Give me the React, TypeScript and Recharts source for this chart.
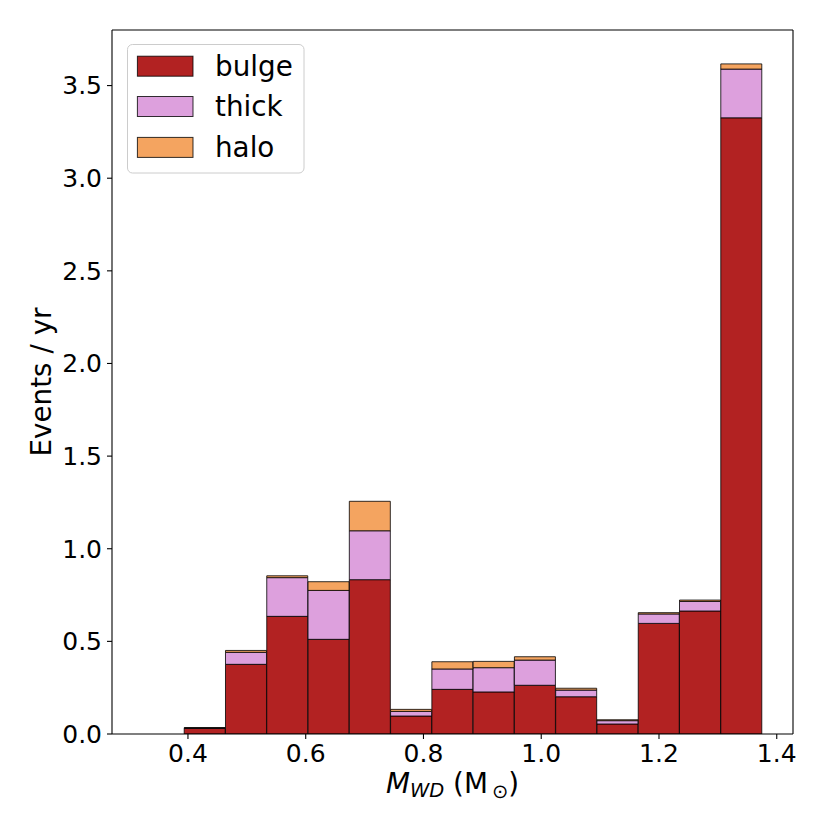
import React from 'react';
import { BarChart, Bar, XAxis, YAxis, Legend, Label, ReferenceLine } from 'recharts';

// Histogram bin centres (M_WD, solar masses)
const binCenters = [0.3586, 0.4287, 0.4988, 0.5689, 0.639, 0.7091, 0.7792, 0.8493, 0.9194, 0.9895, 1.0596, 1.1297, 1.1998, 1.2699, 1.34];
// Events / yr per component (stacked)
const bulge = [0, 0.03, 0.376, 0.635, 0.511, 0.833, 0.097, 0.241, 0.227, 0.263, 0.201, 0.054, 0.597, 0.664, 3.326];
const thick = [0, 0.003, 0.065, 0.209, 0.264, 0.264, 0.025, 0.11, 0.131, 0.136, 0.036, 0.018, 0.051, 0.052, 0.263];
const halo = [0, 0.001, 0.01, 0.01, 0.047, 0.159, 0.011, 0.039, 0.034, 0.018, 0.01, 0.005, 0.007, 0.007, 0.028];

const xTicks = [0.4, 0.6, 0.8, 1.0, 1.2, 1.4];
const yTicks = [0, 0.5, 1.0, 1.5, 2.0, 2.5, 3.0, 3.5];
const xDomain = [0.271, 1.4276];
const yDomain = [0, 3.8];

const series = [
  { key: 'bulge', name: 'bulge', color: '#B22222' },
  { key: 'thick', name: 'thick', color: '#DDA0DD' },
  { key: 'halo', name: 'halo', color: '#F4A460' },
];

const data = binCenters.map((m, i) => ({ m, bulge: bulge[i], thick: thick[i], halo: halo[i] }));

const FONT = 'DejaVu Sans';

const renderXLabel = (props: any) => {
  const vb = props.viewBox || { x: 104, y: 726, width: 681, height: 60 };
  const cx = vb.x + vb.width / 2;
  const y = vb.y + 59;
  return (
    <text x={cx} y={y} textAnchor="middle" fontSize={27.8} fontFamily={FONT} fill="#000">
      <tspan fontStyle="italic">M</tspan>
      <tspan fontStyle="italic" fontSize={19.5} dy={4}>WD</tspan>
      <tspan dy={-4}> (M</tspan>
      <tspan fontSize={19.5} dy={5} dx={4}>⊙</tspan>
      <tspan dy={-5}>)</tspan>
    </text>
  );
};

const renderYLabel = (props: any) => {
  const vb = props.viewBox || { x: 14, y: 22, width: 90, height: 704 };
  const x = vb.x + 28.7;
  const y = vb.y + vb.height / 2;
  return (
    <text
      x={x}
      y={y}
      transform={`rotate(-90, ${x}, ${y})`}
      textAnchor="middle"
      fontSize={27.8}
      fontFamily={FONT}
      fill="#000"
    >
      Events / yr
    </text>
  );
};

const renderLegend = () => {
  const rowCenters = [22.2, 62.5, 103.4];
  return (
    <svg width={178} height={130} style={{ display: 'block' }}>
      <rect x={0.5} y={0.5} width={176.5} height={128.5} rx={5} ry={5} fill="#fff" fillOpacity={0.8} stroke="#cccccc" strokeWidth={1} />
      {series.map((s, i) => (
        <g key={s.key}>
          <rect x={10.4} y={rowCenters[i] - 10} width={55.6} height={20} fill={s.color} stroke="#000" strokeOpacity={0.8} strokeWidth={1} />
          <text x={88} y={rowCenters[i]} dy="0.35em" fontSize={27.8} fontFamily={FONT} fill="#000">
            {s.name}
          </text>
        </g>
      ))}
    </svg>
  );
};

export default function App() {
  return (
    <div style={{ width: 814, height: 814, fontFamily: FONT }}>
      <BarChart
        width={814}
        height={814}
        data={data}
        margin={{ top: 22, right: 29, left: 14, bottom: 28 }}
        barCategoryGap={0}
        barGap={0}
      >
        <XAxis
          dataKey="m"
          type="number"
          domain={xDomain}
          allowDataOverflow
          ticks={xTicks}
          interval={0}
          tickFormatter={(v: number) => v.toFixed(1)}
          tick={{ fontSize: 25, fill: '#000', fontFamily: FONT }}
          tickSize={5}
          tickMargin={5}
          height={60}
          axisLine={{ stroke: '#000', strokeWidth: 1.1 }}
          tickLine={{ stroke: '#000', strokeWidth: 1.1 }}
        >
          <Label content={renderXLabel} />
        </XAxis>
        <YAxis
          type="number"
          domain={yDomain}
          allowDataOverflow
          ticks={yTicks}
          interval={0}
          tickFormatter={(v: number) => v.toFixed(1)}
          tick={{ fontSize: 25, fill: '#000', fontFamily: FONT }}
          tickSize={5}
          tickMargin={5}
          width={90}
          axisLine={{ stroke: '#000', strokeWidth: 1.1 }}
          tickLine={{ stroke: '#000', strokeWidth: 1.1 }}
        >
          <Label content={renderYLabel} />
        </YAxis>
        <Legend
          layout="vertical"
          align="center"
          verticalAlign="middle"
          content={renderLegend}
          wrapperStyle={{ position: 'absolute', left: 119, top: 36, width: 178, height: 130 }}
        />
        {series.map((s) => (
          <Bar
            key={s.key}
            dataKey={s.key}
            name={s.name}
            stackId="a"
            fill={s.color}
            stroke="#000"
            strokeOpacity={0.8}
            strokeWidth={1}
            isAnimationActive={false}
          />
        ))}
        <ReferenceLine y={yDomain[1]} stroke="#000" strokeWidth={1.1} ifOverflow="visible" />
        <ReferenceLine x={xDomain[1]} stroke="#000" strokeWidth={1.1} ifOverflow="visible" />
      </BarChart>
    </div>
  );
}
